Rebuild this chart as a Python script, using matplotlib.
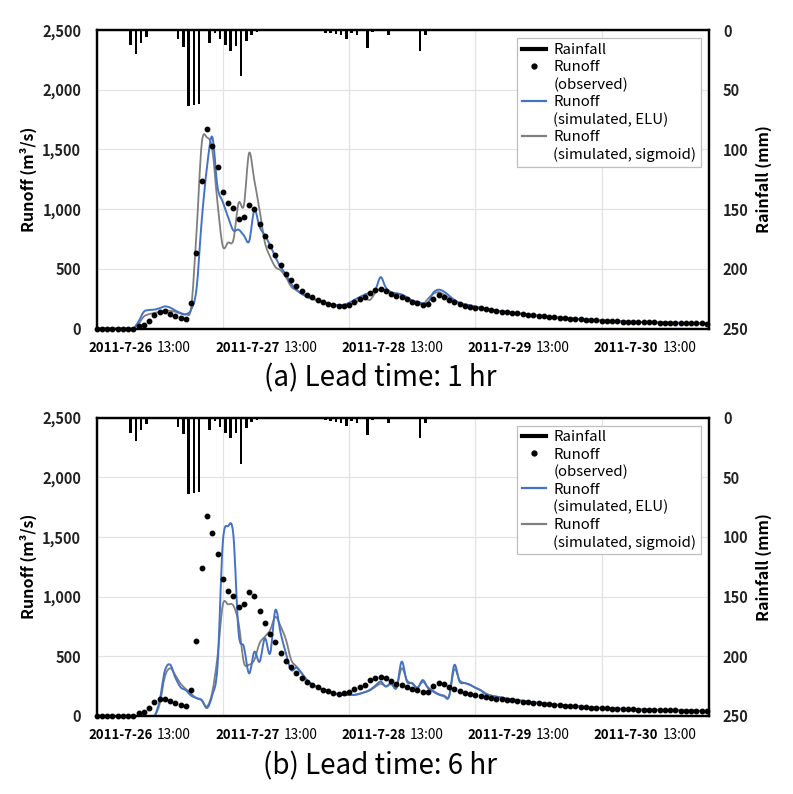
import numpy as np
import matplotlib
matplotlib.use('Agg')
import matplotlib.pyplot as plt
from matplotlib.lines import Line2D
from matplotlib.path import Path
from matplotlib.patches import PathPatch
from matplotlib.ticker import FuncFormatter
from matplotlib.transforms import offset_copy, blended_transform_factory

plt.rcParams['font.family'] = ['Noto Sans CJK KR', 'DejaVu Sans']

# ---------------- data ----------------
n_hours = 117
rain_hours = [6, 7, 8, 9, 15, 16, 17, 18, 19, 21, 22, 23, 24, 25, 26, 27, 28, 29, 30,
              43, 44, 45, 46, 47, 48, 49, 51, 52, 55, 61, 62]
rain_mm = [12.6, 20, 10.6, 5.6, 7.8, 14, 63.8, 63, 62, 10.6, 2.8, 7.8, 12.6, 17.3, 13.4, 38.6, 9, 3.9, 1.7,
           2.2, 2.8, 3.5, 4.5, 7.5, 2.8, 4.5, 14.7, 1.7, 4.5, 17.3, 4.5]

observed = [0, 0, 0, 0, 0, 0, 0, 0,
            25, 30, 67, 117, 140, 145, 123, 106, 89, 81,
            215, 632, 1236, 1675, 1530, 1353, 1144, 1051, 1009, 914,
            934, 1038, 1004, 878, 778, 688, 618, 529, 459, 408,
            358, 316, 282, 263, 240, 221, 207, 195, 187, 190,
            201, 226, 243, 263, 300, 320, 330, 315, 290, 272,
            263, 243, 226, 215, 201, 205, 250, 280, 265, 240,
            225, 206, 192, 183, 175, 168, 160, 152, 146, 140,
            135, 130, 126, 120, 115, 110, 106, 101, 97, 93,
            89, 86, 83, 80, 77, 74, 71, 68, 66, 64,
            62, 60, 58, 56, 55, 54, 53, 52, 51, 50,
            49, 48, 47, 46, 45, 44, 43, 42, 41]

elu_1h = [0, 0, 0, 0, 0, 0, 0, 0,
          60, 140, 155, 158, 170, 185, 175, 150, 130, 120,
          160, 330, 906, 1353, 1605, 1185, 1060, 934, 822, 828,
          780, 730, 990, 850, 780, 696, 598, 514, 453, 375,
          325, 291, 268, 250, 238, 222, 210, 200, 195, 200,
          215, 240, 263, 285, 300, 325, 430, 341, 305, 295,
          285, 260, 235, 225, 210, 215, 300, 325, 310, 275,
          240, 215, 203, 195, 185, 175, 165, 157, 150, 144,
          139, 134, 129, 123, 118, 113, 109, 104, 100, 96,
          92, 89, 85, 82, 79, 76, 73, 70, 68, 66,
          64, 62, 60, 58, 56, 55, 54, 53, 52, 51,
          50, 49, 48, 47, 46, 45, 44, 43, 42]

sig_1h = [0, 0, 0, 0, 0, 0, 0, 0,
          40, 100, 120, 130, 140, 150, 148, 140, 125, 120,
          180, 800, 1549, 1600, 1500, 1050, 690, 720, 740, 1050,
          1030, 1470, 1240, 990, 720, 600, 515, 487, 430, 350,
          320, 290, 265, 248, 235, 220, 208, 198, 190, 190,
          198, 215, 235, 250, 240, 300, 335, 320, 300, 290,
          280, 250, 230, 218, 200, 250, 290, 305, 285, 255,
          232, 210, 195, 185, 176, 168, 160, 153, 147, 141,
          136, 131, 127, 121, 116, 111, 107, 102, 98, 94,
          90, 87, 84, 81, 78, 75, 72, 69, 67, 65,
          63, 61, 59, 57, 56, 55, 54, 53, 52, 51,
          50, 49, 48, 47, 46, 45, 44, 43, 42]

elu_6h = [0, 0, 0, 0, 0, 0, 0, 0,
          0, 0, 0, 0, 130, 380, 430, 320, 240, 215,
          170, 150, 134, 67, 175, 420, 1450, 1590, 1520, 700,
          580, 357, 538, 455, 651, 525, 888, 693, 525, 385,
          405, 357, 301, 265, 240, 222, 205, 190, 180, 175,
          176, 176, 185, 200, 220, 255, 288, 246, 276, 234,
          455, 288, 276, 234, 301, 234, 204, 180, 167, 162,
          427, 288, 276, 262, 235, 215, 180, 168, 162, 152,
          145, 139, 133, 127, 121, 115, 110, 105, 100, 96,
          92, 89, 85, 82, 79, 76, 73, 70, 68, 66,
          64, 62, 60, 58, 56, 55, 54, 53, 52, 51,
          50, 49, 48, 47, 46, 45, 44, 43, 42]

sig_6h = [0, 0, 0, 0, 0, 0, 0, 0,
          0, 0, 0, 0, 100, 330, 400, 340, 270, 225,
          185, 150, 130, 80, 200, 500, 930, 935, 925, 780,
          450, 430, 470, 610, 665, 720, 830, 750, 640, 470,
          415, 360, 300, 265, 242, 225, 208, 194, 184, 178,
          176, 178, 188, 200, 215, 245, 270, 250, 265, 240,
          400, 300, 270, 240, 285, 240, 210, 185, 172, 168,
          390, 300, 275, 260, 238, 218, 190, 172, 163, 155,
          148, 141, 134, 128, 122, 116, 111, 106, 101, 97,
          93, 89, 86, 83, 80, 77, 74, 71, 69, 67,
          65, 63, 61, 59, 57, 56, 55, 54, 53, 52,
          51, 50, 49, 48, 47, 46, 45, 44, 43]

date_labels = ['2011-7-26', '2011-7-27', '2011-7-28', '2011-7-29', '2011-7-30']
time_labels = ['13:00'] * 5
label_hours = [8.5, 32.5, 56.5, 80.5, 104.5]
day_lines = [0, 24, 48, 72, 96]
runoff_ticks = [0, 500, 1000, 1500, 2000, 2500]
rain_ticks = [0, 50, 100, 150, 200, 250]
panel_titles = ['(a) Lead time: 1 hr', '(b) Lead time: 6 hr']

# ---------------- plotting ----------------
BLUE = '#4472C4'
GRAY = '#7F7F7F'


def smooth_line(ax, x, y, **kw):
    """Excel-style smoothed line: cubic Bezier segments through the data points."""
    pts = np.column_stack([x, y]).astype(float)
    n = len(pts)
    verts = [pts[0]]
    codes = [Path.MOVETO]
    for i in range(n - 1):
        p0 = pts[max(i - 1, 0)]
        p1 = pts[i]
        p2 = pts[i + 1]
        p3 = pts[min(i + 2, n - 1)]
        verts += [p1 + (p2 - p0) / 6.0, p2 - (p3 - p1) / 6.0, p2]
        codes += [Path.CURVE4] * 3
    patch = PathPatch(Path(verts, codes), fill=False, capstyle='round', joinstyle='round', **kw)
    ax.add_patch(patch)
    return patch


fig = plt.figure(figsize=(7.93, 7.94), dpi=100)
W, H = 793, 794
ax_left, ax_right = 96.5, 709
panels = [(30, 328.5, elu_1h, sig_1h), (417.5, 716, elu_6h, sig_6h)]

hours = np.arange(n_hours)
rain = np.zeros(n_hours)
rain[rain_hours] = rain_mm

for k, (top, bot, elu, sig) in enumerate(panels):
    ax = fig.add_axes([ax_left / W, 1 - bot / H, (ax_right - ax_left) / W, (bot - top) / H])
    ax.set_xlim(0, 116.4)
    ax.set_ylim(0, 2500)
    ax.set_yticks(runoff_ticks)
    ax.yaxis.set_major_formatter(FuncFormatter(lambda v, p: f'{int(v):,}'))
    for lbl in ax.get_yticklabels():
        lbl.set_fontweight('bold')
    ax.tick_params(axis='y', length=0, pad=11, labelsize=10.5, labelcolor='#222222')
    ax.set_xticks(label_hours)
    ax.set_xticklabels([])
    ax.tick_params(axis='x', length=0)
    for d in day_lines[1:]:
        ax.axvline(d, color='#E3E3E3', lw=0.9, zorder=0)
    for v in runoff_ticks[1:]:
        ax.axhline(v, color='#E3E3E3', lw=0.9, zorder=0)
    for s in ax.spines.values():
        s.set_linewidth(1.6)
        s.set_color('black')
    ax.set_ylabel('Runoff (m³/s)', fontsize=11.5, fontweight='bold', labelpad=4)

    smooth_line(ax, hours, sig, edgecolor=GRAY, lw=1.3, zorder=3)
    smooth_line(ax, hours, elu, edgecolor=BLUE, lw=1.4, zorder=4)
    ax.plot(hours, observed, 'o', color='black', ms=3.2, zorder=5, clip_on=False)

    ax2 = ax.twinx()
    ax2.set_ylim(250, 0)
    ax2.set_yticks(rain_ticks)
    for lbl in ax2.get_yticklabels():
        lbl.set_fontweight('bold')
    ax2.tick_params(axis='y', length=0, pad=10, labelsize=10.5, labelcolor='#222222')
    ax2.bar(hours + 0.5, rain, width=0.48, color='black', zorder=2)
    ax2.set_ylabel('Rainfall (mm)', fontsize=11.5, fontweight='bold', labelpad=5)
    for s in ax2.spines.values():
        s.set_linewidth(1.6)
        s.set_color('black')

    trans = blended_transform_factory(ax.transData, ax.transAxes)
    for pos, dl, tl in zip(label_hours, date_labels, time_labels):
        ax.text(pos, 0, dl, transform=offset_copy(trans, fig, x=12, y=-12, units='dots'),
                ha='right', va='top', fontsize=9.5, fontweight='bold')
        ax.text(pos, 0, tl, transform=offset_copy(trans, fig, x=16, y=-12, units='dots'),
                ha='left', va='top', fontsize=9.8)

    fig.text(380 / W, 1 - (bot + 50) / H, panel_titles[k], ha='center', va='center',
             fontsize=20)

    handles = [Line2D([], [], color='black', lw=3),
               Line2D([], [], marker='o', ls='none', color='black', ms=3.5),
               Line2D([], [], ls='none'),
               Line2D([], [], color=BLUE, lw=1.6),
               Line2D([], [], ls='none'),
               Line2D([], [], color=GRAY, lw=1.6),
               Line2D([], [], ls='none')]
    labels = ['Rainfall', 'Runoff', '(observed)', 'Runoff', '(simulated, ELU)',
              'Runoff', '(simulated, sigmoid)']
    leg = ax2.legend(handles, labels, loc='upper right', fontsize=10.8, frameon=True,
                     fancybox=False, edgecolor='#BFBFBF', framealpha=1,
                     labelspacing=0.22, handlelength=1.6, handletextpad=0.5,
                     borderaxespad=0.55, borderpad=0.3)
    leg.get_frame().set_linewidth(0.9)

fig.savefig('out.png', dpi=100)
